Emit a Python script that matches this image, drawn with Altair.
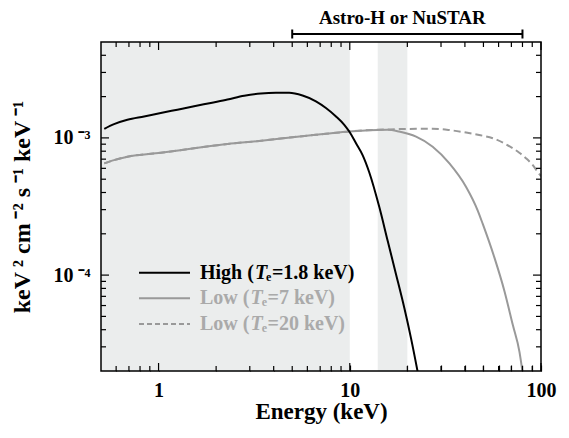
import altair as alt
import pandas as pd

# ---------------- data ----------------
energy_high = [0.52, 0.585, 0.687, 0.84, 1.027, 1.254, 1.534, 1.876, 2.292, 2.804,
               3.428, 4.108, 4.823, 5.661, 6.653, 7.505, 8.471, 9.358, 9.94, 10.78,
               11.67, 12.65, 14.27, 15.78, 17.46, 19.29, 20.91, 22.65, 23.5]
flux_high = [1.165e-3, 1.261e-3, 1.356e-3, 1.434e-3, 1.519e-3, 1.606e-3, 1.699e-3,
             1.799e-3, 1.903e-3, 2.025e-3, 2.106e-3, 2.132e-3, 2.132e-3, 2.036e-3,
             1.849e-3, 1.653e-3, 1.434e-3, 1.246e-3, 1.112e-3, 9.14e-4, 7.5e-4,
             5.6e-4, 3.13e-4, 1.778e-4, 1.012e-4, 5.75e-5, 3.46e-5, 1.97e-5, 1.5e-5]

energy_low7 = [0.52, 0.585, 0.687, 1.027, 1.534, 2.292, 3.36, 5.02, 7.5, 9.94,
               12.5, 15.78, 18.1, 22.22, 27.14, 33.19, 40.59, 46.68, 49.59, 57.08,
               64.41, 71.19, 77.16, 80.3, 82.0]
flux_low7 = [6.52e-4, 6.89e-4, 7.29e-4, 7.79e-4, 8.4e-4, 9.03e-4, 9.5e-4, 1.012e-3,
             1.07e-3, 1.112e-3, 1.138e-3, 1.145e-3, 1.112e-3, 1.022e-3, 8.63e-4,
             6.52e-4, 4.39e-4, 2.955e-4, 2.36e-4, 1.34e-4, 7.63e-5, 4.34e-5,
             2.76e-5, 1.91e-5, 1.55e-5]

energy_low20 = [0.52, 0.585, 0.687, 1.027, 1.534, 2.292, 3.36, 5.02, 7.5, 9.94,
                12.5, 15.78, 18.1, 22.22, 27.14, 33.19, 40.59, 47.5, 55.92, 63.5,
                71.19, 77.0, 83.66, 90.0, 96.2, 100.0]
flux_low20 = [6.52e-4, 6.89e-4, 7.29e-4, 7.79e-4, 8.4e-4, 9.03e-4, 9.5e-4, 1.012e-3,
              1.07e-3, 1.112e-3, 1.138e-3, 1.152e-3, 1.159e-3, 1.164e-3, 1.165e-3,
              1.14e-3, 1.094e-3, 1.05e-3, 9.95e-4, 9.2e-4, 8.4e-4, 7.8e-4, 7.09e-4,
              6.4e-4, 5.65e-4, 5.25e-4]

band_start = [0.5, 14.0]
band_end = [10.0, 20.0]

bracket_start = [5.0]
bracket_end = [80.0]
bracket_label = ["Astro-H or NuSTAR"]

x_major = [1, 10, 100]
x_minor = [0.6, 0.7, 0.8, 0.9, 2, 3, 4, 5, 6, 7, 8, 9, 20, 30, 40, 50, 60, 70, 80, 90]
y_major = [1e-4, 1e-3]
y_minor = [3e-5, 4e-5, 5e-5, 6e-5, 7e-5, 8e-5, 9e-5,
           2e-4, 3e-4, 4e-4, 5e-4, 6e-4, 7e-4, 8e-4, 9e-4,
           2e-3, 3e-3, 4e-3]

legend_prefix = ["High (", "Low (", "Low ("]
legend_suffix = ["=1.8 keV)", "=7 keV)", "=20 keV)"]

# ---------------- style ----------------
W, H = 440, 329
FONT = "Liberation Serif"
BLACK = "#000000"
GRAY = "#999999"
GRAY_TXT = "#aaaaaa"
SHADE = "#ebeded"
TICK = 6  # inward tick length of the labelled axes

xscale = alt.Scale(type="log", domain=[0.5, 100], nice=False)
yscale = alt.Scale(type="log", domain=[2e-5, 5e-3], nice=False)

# shaded bands (carry the labelled x axis, with inward ticks)
bands = alt.Chart(pd.DataFrame({"start": band_start, "end": band_end})).mark_rect(
    color=SHADE
).encode(
    x=alt.X("start:Q", scale=xscale, axis=alt.Axis(
        values=sorted(x_major + x_minor),
        labelExpr="(datum.value == 1 || datum.value == 10 || datum.value == 100) ? datum.value : ''",
        ticks=True, tickSize=alt.ExprRef(expr=str(-TICK)), tickColor=BLACK, tickWidth=1.2,
        domain=False, grid=False,
        labelFont=FONT, labelFontSize=20, labelFontWeight="bold", labelColor=BLACK,
        labelPadding=9 + TICK, labelFlush=False, labelOverlap=False,
        title="Energy (keV)", titleFont=FONT,
        titleFontSize=23, titleFontWeight="bold", titleColor=BLACK,
        titleX=W / 2, titleY=40, titleAlign="center", titleBaseline="middle")),
    x2="end:Q",
    y=alt.value(0),
    y2=alt.value(H),
)

yaxis_holder = alt.Chart(pd.DataFrame({"yv": y_major})).mark_point(opacity=0).encode(
    x=alt.value(0),
    y=alt.Y("yv:Q", scale=yscale, axis=alt.Axis(
        values=sorted(y_major + y_minor),
        labelExpr="abs(datum.value - 0.001) < 1e-9 ? '10\u2009\u207b\u00b3' : "
                  "(abs(datum.value - 0.0001) < 1e-10 ? '10\u2009\u207b\u2074' : '')",
        ticks=True, tickSize=alt.ExprRef(expr=str(-TICK)), tickColor=BLACK, tickWidth=1.2,
        domain=False, grid=False, labelOverlap=False,
        labelFont=FONT, labelFontSize=20, labelFontWeight="bold", labelColor=BLACK,
        labelPadding=11 + TICK,
        title="keV\u2009\u00b2 cm\u2009\u207b\u00b2 s\u2009\u207b\u00b9 keV\u2009\u207b\u00b9",
        titleFont=FONT, titleFontSize=24, titleFontWeight="bold", titleColor=BLACK,
        titleX=-79, titleY=H / 2, titleAngle=-90, titleAlign="center",
        titleBaseline="middle")),
)


def curve(es, fs, color, dash=None):
    kw = dict(color=color, strokeWidth=2, clip=True, interpolate="monotone")
    if dash:
        kw["strokeDash"] = dash
    return alt.Chart(pd.DataFrame({"e": es, "f": fs})).mark_line(**kw).encode(
        x=alt.X("e:Q", scale=xscale),
        y=alt.Y("f:Q", scale=yscale),
        order="e:Q",
    )


lines = [
    curve(energy_low20, flux_low20, GRAY, [7, 4]),
    curve(energy_low7, flux_low7, GRAY),
    curve(energy_high, flux_high, BLACK),
]


# inward ticks on all four sides, drawn as short rules at the tick values
def ticks(vals, channel, side, length):
    df = pd.DataFrame({"tv": vals})
    if channel == "x":
        enc = dict(x=alt.X("tv:Q", scale=xscale))
        if side == "bottom":
            enc.update(y=alt.value(H), y2=alt.value(H - length))
        else:
            enc.update(y=alt.value(0), y2=alt.value(length))
    else:
        enc = dict(y=alt.Y("tv:Q", scale=yscale))
        if side == "left":
            enc.update(x=alt.value(0), x2=alt.value(length))
        else:
            enc.update(x=alt.value(W), x2=alt.value(W - length))
    return alt.Chart(df).mark_rule(color=BLACK, strokeWidth=1.2).encode(**enc)


tick_layers = []
for side in ["bottom", "top"]:
    tick_layers.append(ticks(x_major, "x", side, 8))
    tick_layers.append(ticks(x_minor, "x", side, 5))
for side in ["left", "right"]:
    tick_layers.append(ticks(y_major, "y", side, 8))
    tick_layers.append(ticks(y_minor, "y", side, 5))

# plot frame
frame = alt.Chart(alt.Data(values=[{"k": 0}])).mark_rect(
    filled=False, stroke=BLACK, strokeWidth=1.5).encode(
    x=alt.value(0), x2=alt.value(W), y=alt.value(0), y2=alt.value(H))

# bracket above the plot
bdf = pd.DataFrame({"a": bracket_start, "b": bracket_end, "label": bracket_label})
bracket = alt.Chart(bdf).mark_rule(color=BLACK, strokeWidth=2).encode(
    x=alt.X("a:Q", scale=xscale), x2="b:Q", y=alt.value(-8))
caps = alt.Chart(pd.DataFrame({"cv": bracket_start + bracket_end})).mark_rule(
    color=BLACK, strokeWidth=2).encode(
    x=alt.X("cv:Q", scale=xscale), y=alt.value(-12.5), y2=alt.value(-3.5))
bracket_text = alt.Chart(bdf).transform_calculate(
    mid="sqrt(datum.a * datum.b)"
).mark_text(font=FONT, fontSize=19, fontWeight="bold", color=BLACK,
            align="center", baseline="alphabetic", dx=-5).encode(
    x=alt.X("mid:Q", scale=xscale), y=alt.value(-18), text="label:N")

# legend (manual)
BOLD_W = {" ": 250, "(": 333, ")": 333, ".": 250, "=": 570, "0": 500, "1": 500,
          "2": 500, "7": 500, "8": 500, "H": 778, "L": 667, "V": 722, "e": 444,
          "g": 500, "h": 556, "i": 278, "k": 556, "o": 500, "w": 722}


def tw(s, size):
    return sum(BOLD_W.get(c, 500) for c in s) * size / 1000.0


one = alt.Data(values=[{"k": 0}])
LEG_FS = 20
leg_rows = [230.7, 256.3, 282.0]
leg_colors = [BLACK, GRAY, GRAY]
leg_txt_colors = [BLACK, GRAY_TXT, GRAY_TXT]
leg_dash = [None, None, [5, 3]]
legend_layers = []
for i in range(3):
    yy = leg_rows[i]
    kw = dict(color=leg_colors[i], strokeWidth=2)
    if leg_dash[i]:
        kw["strokeDash"] = leg_dash[i]
    legend_layers.append(alt.Chart(one).mark_rule(**kw).encode(
        x=alt.value(38), x2=alt.value(89), y=alt.value(yy)))
    x0 = 99
    tcommon = dict(font=FONT, fontWeight="bold", color=leg_txt_colors[i],
                   align="left", baseline="middle")
    legend_layers.append(alt.Chart(one).mark_text(fontSize=LEG_FS, **tcommon).encode(
        x=alt.value(x0), y=alt.value(yy), text=alt.value(legend_prefix[i])))
    x1 = x0 + tw(legend_prefix[i], LEG_FS) + 1
    legend_layers.append(alt.Chart(one).mark_text(fontSize=LEG_FS, fontStyle="italic",
                                                  **tcommon).encode(
        x=alt.value(x1), y=alt.value(yy), text=alt.value("T")))
    x2 = x1 + 611 * LEG_FS / 1000.0 - 1
    legend_layers.append(alt.Chart(one).mark_text(fontSize=12, **tcommon).encode(
        x=alt.value(x2), y=alt.value(yy + 4), text=alt.value("e")))
    x3 = x2 + 444 * 12 / 1000.0 + 0.5
    legend_layers.append(alt.Chart(one).mark_text(fontSize=LEG_FS, **tcommon).encode(
        x=alt.value(x3), y=alt.value(yy), text=alt.value(legend_suffix[i])))

chart = alt.layer(
    bands, yaxis_holder, *lines, *tick_layers, frame, bracket, caps, bracket_text,
    *legend_layers
).properties(
    width=W, height=H,
    padding={"left": 93, "top": 34, "right": 20, "bottom": 62},
    autosize=alt.AutoSizeParams(type="none"),
).configure_view(strokeWidth=0)

chart.save("out.html", embed_options={"renderer": "svg", "actions": False})
